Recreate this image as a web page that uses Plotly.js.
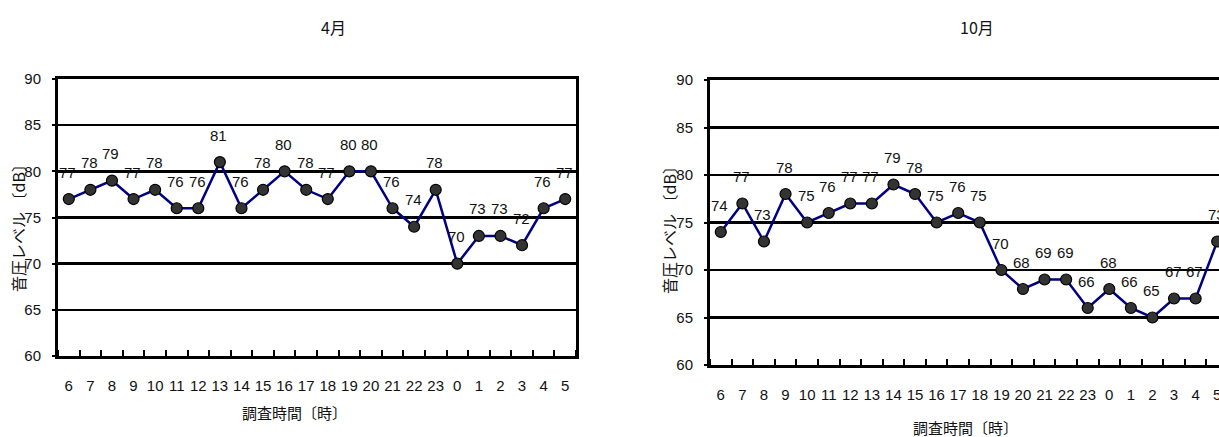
<!DOCTYPE html>
<html><head><meta charset="utf-8">
<script src="https://cdn.plot.ly/plotly-3.0.1.min.js"></script>
<style>html,body{margin:0;padding:0;background:#fff;overflow:hidden}#c{width:1219px;height:437px}</style>
</head><body><div id="c"></div>
<script>
const hours = ["6","7","8","9","10","11","12","13","14","15","16","17","18","19","20","21","22","23","0","1","2","3","4","5"];
const aprilValues = [77,78,79,77,78,76,76,81,76,78,80,78,77,80,80,76,74,78,70,73,73,72,76,77];
const octoberValues = [74,77,73,78,75,76,77,77,79,78,75,76,75,70,68,69,69,66,68,66,65,67,67,73];
const chartTitles = ["4月","10月"];
const yTitle = "音圧レベル 〔dB〕";
const xTitle = "調査時間〔時〕";
const yTicks = [60,65,70,75,80,85,90];

const W = 1219, H = 437;
const NUM = "'Liberation Sans', Arial, sans-serif";
const JP = "'Noto Sans CJK JP', sans-serif";

function trace(vals, xa, ya){
  return {x: hours.map((h,i)=>i), y: vals, xaxis: xa, yaxis: ya, type:'scatter', mode:'lines+markers',
    line:{color:'#000080', width:2.5},
    marker:{size:11, color:'#333333', line:{color:'#000000', width:1.2}},
    cliponaxis:false, hoverinfo:'skip'};
}

function xaxis(domain, range){
  return {domain: domain, type:'linear', range: range,
    tickmode:'array', tickvals: hours.map((h,i)=>i), ticktext: hours, tickangle:0,
    ticklabeloverflow:'allow',
    showline:true, linecolor:'#000', linewidth:3, mirror:true,
    ticks:'', showgrid:false, zeroline:false, ticklabelstandoff:14,
    minor:{ticks:'inside', tick0:0.5, dtick:1, ticklen:6, tickwidth:2, tickcolor:'#000', showgrid:false},
    tickfont:{family:NUM, size:15, color:'#111'}, fixedrange:true};
}
function yaxis(domain, anchor, mirror){
  return {domain: domain, anchor: anchor, range:[60,90], tickvals:yTicks,
    showline:true, linecolor:'#000', linewidth:3, mirror:mirror,
    showgrid:true, gridcolor:'#000', gridwidth:2.4, zeroline:false,
    ticks:'outside', ticklen:3, tickwidth:2, tickcolor:'#000', ticklabelstandoff:8,
    tickfont:{family:NUM, size:15, color:'#111'}, fixedrange:true};
}

const annotations = [];
function addLabels(vals, xr, yr){
  vals.forEach((v,i)=>{
    annotations.push({x: i, y: v, xref: xr, yref: yr, text: String(v), showarrow:false,
      yshift: 27, xshift: -1, font:{family:NUM, size:15, color:'#111'}});
  });
}
addLabels(aprilValues, 'x', 'y');
addLabels(octoberValues, 'x2', 'y2');

function paperAnn(text, px, py, size, angle){
  annotations.push({text:text, x: px/W, y: 1 - py/H, xref:'paper', yref:'paper', showarrow:false,
    xanchor:'center', yanchor:'middle', textangle: angle||0, font:{family:JP, size:size, color:'#111'}});
}
paperAnn(chartTitles[0], 333, 27, 16);
paperAnn(chartTitles[1], 977, 27, 16);
paperAnn(yTitle, 18, 224, 16, -90);
paperAnn(yTitle, 669, 226, 16, -90);
paperAnn(xTitle, 294, 412, 15);
paperAnn(xTitle, 965, 427, 15);

const leftX = [58/W, 576/W];
const rightX = [710/W, 1];
const rightRange = [-0.5, -0.5 + (W - 710) / (518/24)];
const leftY = [(H-356)/H, (H-79)/H];
const rightY = [(H-365)/H, (H-80)/H];

const layout = {
  width: W, height: H, margin:{l:0,r:0,t:0,b:0}, showlegend:false,
  paper_bgcolor:'#fff', plot_bgcolor:'#fff',
  xaxis: Object.assign(xaxis(leftX, [-0.5, 23.5]), {anchor:'y'}),
  yaxis: yaxis(leftY, 'x', true),
  xaxis2: Object.assign(xaxis(rightX, rightRange), {anchor:'y2'}),
  yaxis2: yaxis(rightY, 'x2', false),
  annotations: annotations
};

Plotly.newPlot('c', [trace(aprilValues,'x','y'), trace(octoberValues,'x2','y2')], layout, {staticPlot:true});
</script></body></html>
